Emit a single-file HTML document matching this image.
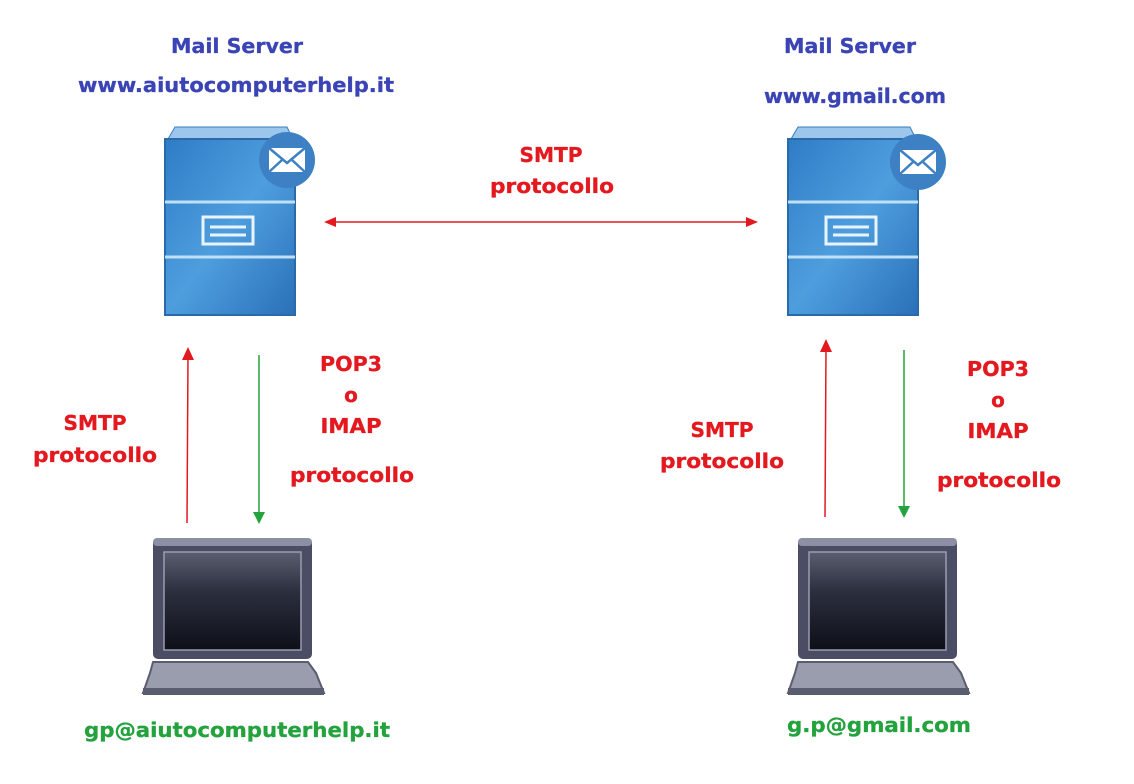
<!DOCTYPE html>
<html><head><meta charset="utf-8"><style>
html,body{margin:0;padding:0;background:#fff;}
svg{display:block;}
text{font-family:"DejaVu Sans","Liberation Sans",sans-serif;font-weight:bold;font-size:20px;stroke-width:0.3px;}
.b{fill:#3b44b5;stroke:#3b44b5}.r{fill:#e3191f;stroke:#e3191f}.g{fill:#23a23d;stroke:#23a23d}
</style></head><body>
<svg width="1134" height="784" viewBox="0 0 1134 784" xmlns="http://www.w3.org/2000/svg">
<defs>
<linearGradient id="sg" x1="0" y1="0" x2="1" y2="1">
<stop offset="0" stop-color="#2f7cc6"/><stop offset="0.5" stop-color="#4e9ede"/><stop offset="1" stop-color="#2a70b8"/>
</linearGradient>
<linearGradient id="scr" x1="0" y1="0" x2="0" y2="1">
<stop offset="0" stop-color="#5a5e70"/><stop offset="0.4" stop-color="#2c2f3e"/><stop offset="1" stop-color="#0d0f18"/>
</linearGradient>
<g id="server">
<path d="M3,12 L10,0 L122,0 L128,12 Z" fill="#9cc6ec" stroke="#3a7fc0"/>
<rect x="0" y="12" width="130" height="176" fill="url(#sg)" stroke="#2a6aa8" stroke-width="2"/>
<line x1="0" y1="75" x2="130" y2="75" stroke="#bfe0f8" stroke-width="3"/>
<line x1="0" y1="130" x2="130" y2="130" stroke="#bfe0f8" stroke-width="3"/>
<rect x="38" y="90" width="50" height="27" fill="none" stroke="#e8f4ff" stroke-width="3"/>
<line x1="45" y1="100" x2="81" y2="100" stroke="#e8f4ff" stroke-width="3"/>
<line x1="45" y1="108" x2="81" y2="108" stroke="#e8f4ff" stroke-width="3"/>
</g>
<g id="mail">
<circle cx="0" cy="0" r="28" fill="#3d80c4"/>
<rect x="-18" y="-12" width="36" height="24" fill="#fff"/>
<path d="M-18,-12 L0,3 L18,-12 M-18,12 L-5,0 M18,12 L5,0" fill="none" stroke="#3d80c4" stroke-width="2.5"/>
</g>
<g id="laptop">
<rect x="0" y="0" width="159" height="121" rx="5" fill="#4a4d63"/>
<rect x="0" y="0" width="159" height="8" rx="4" fill="#8d90a4"/>
<rect x="11" y="14" width="137" height="98" fill="url(#scr)" stroke="#9a9db0" stroke-width="1.5"/>
<path d="M0,124 L155,124 L163,135 L171,155 L-10,155 L-3,135 Z" fill="#9a9dae" stroke="#5a5d70" stroke-width="2"/>
<rect x="-10" y="150" width="181" height="7" fill="#5a5d70"/>
</g>
</defs>

<use href="#server" x="165" y="127"/>
<use href="#mail" x="287" y="160"/>
<use href="#server" x="788" y="127"/>
<use href="#mail" x="918" y="162"/>
<use href="#laptop" x="153" y="538"/>
<use href="#laptop" x="798" y="538"/>

<line x1="330" y1="222" x2="752" y2="222" stroke="#e3191f" stroke-width="1.5"/>
<path d="M324,222 L336,217 L336,227 Z" fill="#e3191f"/>
<path d="M758,222 L746,217 L746,227 Z" fill="#e3191f"/>
<line x1="187" y1="523" x2="188" y2="355" stroke="#e3191f" stroke-width="1.5"/>
<path d="M188,347 L182,360 L194,360 Z" fill="#e3191f"/>
<line x1="259" y1="355" x2="259" y2="515" stroke="#23a23d" stroke-width="1.5"/>
<path d="M259,524 L253,512 L265,512 Z" fill="#23a23d"/>
<line x1="825" y1="517" x2="826" y2="348" stroke="#e3191f" stroke-width="1.5"/>
<path d="M826,339 L820,352 L832,352 Z" fill="#e3191f"/>
<line x1="904" y1="350" x2="904" y2="509" stroke="#23a23d" stroke-width="1.5"/>
<path d="M904,518 L898,506 L910,506 Z" fill="#23a23d"/>

<text class="b" x="237" y="53" text-anchor="middle" textLength="132" lengthAdjust="spacingAndGlyphs">Mail Server</text>
<text class="b" x="236" y="92" text-anchor="middle" textLength="316" lengthAdjust="spacingAndGlyphs">www.aiutocomputerhelp.it</text>
<text class="b" x="850" y="53" text-anchor="middle" textLength="132" lengthAdjust="spacingAndGlyphs">Mail Server</text>
<text class="b" x="855" y="103" text-anchor="middle" textLength="182" lengthAdjust="spacingAndGlyphs">www.gmail.com</text>

<text class="r" x="551" y="162" text-anchor="middle" textLength="63" lengthAdjust="spacingAndGlyphs">SMTP</text>
<text class="r" x="552" y="193" text-anchor="middle" textLength="124" lengthAdjust="spacingAndGlyphs">protocollo</text>

<text class="r" x="95" y="430" text-anchor="middle" textLength="63" lengthAdjust="spacingAndGlyphs">SMTP</text>
<text class="r" x="95" y="462" text-anchor="middle" textLength="124" lengthAdjust="spacingAndGlyphs">protocollo</text>
<text class="r" x="351" y="371" text-anchor="middle" textLength="62" lengthAdjust="spacingAndGlyphs">POP3</text>
<text class="r" x="351" y="402" text-anchor="middle">o</text>
<text class="r" x="351" y="433" text-anchor="middle" textLength="61" lengthAdjust="spacingAndGlyphs">IMAP</text>
<text class="r" x="352" y="482" text-anchor="middle" textLength="124" lengthAdjust="spacingAndGlyphs">protocollo</text>

<text class="r" x="722" y="437" text-anchor="middle" textLength="63" lengthAdjust="spacingAndGlyphs">SMTP</text>
<text class="r" x="722" y="468" text-anchor="middle" textLength="124" lengthAdjust="spacingAndGlyphs">protocollo</text>
<text class="r" x="998" y="376" text-anchor="middle" textLength="62" lengthAdjust="spacingAndGlyphs">POP3</text>
<text class="r" x="998" y="407" text-anchor="middle">o</text>
<text class="r" x="998" y="438" text-anchor="middle" textLength="61" lengthAdjust="spacingAndGlyphs">IMAP</text>
<text class="r" x="999" y="487" text-anchor="middle" textLength="124" lengthAdjust="spacingAndGlyphs">protocollo</text>

<text class="g" x="237" y="737" text-anchor="middle" textLength="306" lengthAdjust="spacingAndGlyphs">gp@aiutocomputerhelp.it</text>
<text class="g" x="879" y="732" text-anchor="middle" textLength="184" lengthAdjust="spacingAndGlyphs">g.p@gmail.com</text>
</svg>
</body></html>
